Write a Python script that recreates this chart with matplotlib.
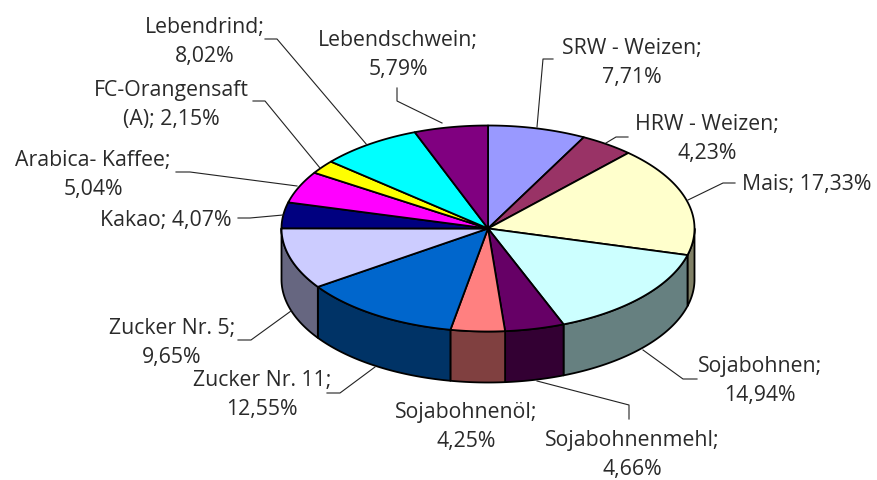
import numpy as np
import matplotlib
matplotlib.use('Agg')
import matplotlib.pyplot as plt

names = ['SRW - Weizen', 'HRW - Weizen', 'Mais', 'Sojabohnen', 'Sojabohnenmehl',
         'Sojabohnenöl', 'Zucker Nr. 11', 'Zucker Nr. 5', 'Kakao', 'Arabica- Kaffee',
         'FC-Orangensaft\n(A)', 'Lebendrind', 'Lebendschwein']
values = [7.71, 4.23, 17.33, 14.94, 4.66, 4.25, 12.55, 9.65, 4.07, 5.04, 2.15, 8.02, 5.79]
colors = ['#9999FF', '#993366', '#FFFFCC', '#CCFFFF', '#660066', '#FF8080', '#0066CC',
          '#CCCCFF', '#000080', '#FF00FF', '#FFFF00', '#00FFFF', '#800080']

# pie geometry in image pixels
CX, CY = 488, 229.5
RX, RY = 206.5, 103
DEPTH = 51

# label centres
label_pos = [(632, 63), (707, 139), (807, 185), (760, 381), (632, 455), (466, 427),
             (262, 395), (172, 343), (166, 221), (93, 175), (171, 105), (205, 42), (398, 55)]
# slices with the value on the same line as the name
one_line = ['Mais', 'Kakao', 'FC-Orangensaft\n(A)']

# leader lines, first point is at the label, last at the pie
leaders = [
    [(553, 60), (543, 60), (537, 128)],
    [(628, 138), (616, 138), (606, 144)],
    [(735, 184), (723, 184), (688, 201)],
    [(697, 380), (683, 380), (643, 351)],
    [(629, 420), (629, 406), (537, 382)],
    [(327, 394), (340, 394), (375, 368)],
    [(238, 341), (251, 341), (291, 312)],
    [(238, 219), (250, 219), (283, 216)],
    [(176, 173), (190, 173), (297, 187)],
    [(253, 102), (265, 102), (320, 169)],
    [(265, 40), (277, 40), (367, 146)],
    [(397, 89), (397, 102), (442, 124)],
]


def ellipse_pts(a, b, dy=0.0):
    # angles are degrees clockwise from the top of the pie
    t = np.radians(np.linspace(a, b, max(int(abs(b - a)) * 2, 2)))
    return CX + RX * np.sin(t), CY - RY * np.cos(t) + dy


def darker(c):
    rgb = np.array(matplotlib.colors.to_rgb(c)) * 0.5
    return tuple(rgb)


fig = plt.figure(figsize=(8.77, 4.81), dpi=100)
ax = fig.add_axes([0, 0, 1, 1])
ax.set_xlim(0, 877)
ax.set_ylim(481, 0)
ax.axis('off')

edges = np.concatenate([[0], np.cumsum(values)]) / sum(values) * 360

# side wall first, only the front half of the pie shows
for i, c in enumerate(colors):
    a = max(edges[i], 90)
    b = min(edges[i + 1], 270)
    if b <= a:
        continue
    x1, y1 = ellipse_pts(a, b)
    x2, y2 = ellipse_pts(b, a, DEPTH)
    ax.fill(np.r_[x1, x2], np.r_[y1, y2], facecolor=darker(c), edgecolor='black',
            linewidth=1.3, joinstyle='round')

# top face
for i, c in enumerate(colors):
    x, y = ellipse_pts(edges[i], edges[i + 1])
    ax.fill(np.r_[CX, x], np.r_[CY, y], facecolor=c, edgecolor='black',
            linewidth=1.3, joinstyle='round')

for pts in leaders:
    xs, ys = zip(*pts)
    ax.plot(xs, ys, color='#222222', linewidth=0.8)

for name, v, (x, y) in zip(names, values, label_pos):
    val = f'{v:.2f}'.replace('.', ',') + '%'
    sep = ' ' if name in one_line else '\n'
    ax.text(x, y, f'{name};{sep}{val}', ha='center', va='center', family='Open Sans',
            fontsize=15.3, color='#2a2a2a', linespacing=1.55)

fig.savefig('out.png', dpi=100)
